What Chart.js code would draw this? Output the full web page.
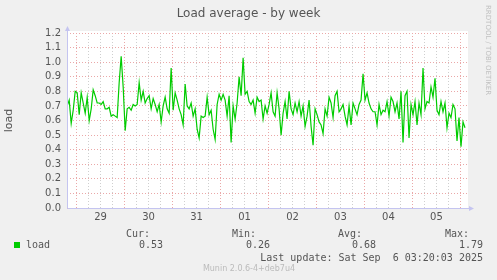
<!DOCTYPE html>
<html>
<head>
<meta charset="utf-8">
<script src="https://cdn.jsdelivr.net/npm/chart.js@4"></script>
<style>
  body { margin: 0; background: #f0f0f0; }
  #wrap { position: relative; width: 497px; height: 280px; overflow: hidden; }
  #chart { position: absolute; left: 0; top: 0; }
  .txt { position: absolute; font-family: 'DejaVu Sans Mono', monospace; font-size: 10px; line-height: 12px; color: #555; white-space: pre; }
  .r { text-align: right; }
  #title { position: absolute; left: 0; top: 6px; width: 497px; text-align: center; font-family: 'DejaVu Sans', sans-serif; font-size: 12px; line-height: 14px; color: #555; }
  #rrd { position: absolute; left: 484px; top: 5px; writing-mode: vertical-rl; font-family: 'DejaVu Sans', sans-serif; font-size: 7px; line-height: 8px; color: #c0c0c0; }
  #ver { position: absolute; left: 149px; top: 264px; width: 200px; text-align: center; font-family: 'DejaVu Sans', sans-serif; font-size: 8px; line-height: 10px; color: #bbb; }
  #swatch { position: absolute; left: 14px; top: 242px; width: 6px; height: 6px; background: #00cc00; }
</style>
</head>
<body>
<div id="wrap">
  <canvas id="chart" width="497" height="280"></canvas>
  <div id="title">Load average - by week</div>
  <div id="rrd">RRDTOOL / TOBI OETIKER</div>

  <div class="txt r" style="right:347px;top:228px">Cur:</div>
  <div class="txt r" style="right:241px;top:228px">Min:</div>
  <div class="txt r" style="right:135px;top:228px">Avg:</div>
  <div class="txt r" style="right:28px;top:228px">Max:</div>

  <div id="swatch"></div>
  <div class="txt" style="left:26px;top:239px">load</div>
  <div class="txt r" style="right:334px;top:239px">0.53</div>
  <div class="txt r" style="right:227px;top:239px">0.26</div>
  <div class="txt r" style="right:121px;top:239px">0.68</div>
  <div class="txt r" style="right:14px;top:239px">1.79</div>

  <div class="txt r" style="right:14px;top:252px">Last update: Sat Sep  6 03:20:03 2025</div>
  <div id="ver">Munin 2.0.6-4+deb7u4</div>
</div>

<script>
// x axis is in hours since 29 Aug 00:00, labels sit at noon of each day
const dayLabels = ['29', '30', '31', '01', '02', '03', '04', '05'];
const xMin = -4.8;
const xMax = 195.8;
const firstHour = -4.7; // first sample
const stepHours = 1;
const yTicks = [0, 0.1, 0.2, 0.3, 0.4, 0.5, 0.6, 0.7, 0.8, 0.9, 1.0, 1.1, 1.2];

const load = [
  0.70, 0.74, 0.58, 0.67, 0.80, 0.79, 0.64, 0.79, 0.72, 0.65, 0.76, 0.60, 0.68, 0.81, 0.77, 0.72, 0.72, 0.71,
  0.73, 0.68, 0.68, 0.69, 0.63, 0.64, 0.63, 0.62, 0.86, 1.04, 0.83, 0.53, 0.68, 0.69, 0.67, 0.71, 0.70,
  0.71, 0.86, 0.74, 0.80, 0.72, 0.75, 0.77, 0.68, 0.75, 0.71, 0.66, 0.71, 0.59, 0.70, 0.76, 0.68, 0.65,
  0.96, 0.67, 0.79, 0.74, 0.68, 0.64, 0.57, 0.85, 0.70, 0.68, 0.72, 0.63, 0.68, 0.54, 0.48, 0.63, 0.62,
  0.63, 0.76, 0.64, 0.67, 0.54, 0.47, 0.71, 0.78, 0.74, 0.78, 0.74, 0.63, 0.77, 0.45, 0.70, 0.61, 0.72,
  0.90, 0.77, 1.03, 0.78, 0.80, 0.73, 0.71, 0.74, 0.65, 0.76, 0.73, 0.74, 0.61, 0.70, 0.65, 0.71, 0.79,
  0.66, 0.63, 0.79, 0.68, 0.50, 0.65, 0.73, 0.61, 0.80, 0.68, 0.64, 0.72, 0.66, 0.73, 0.63, 0.70, 0.56,
  0.63, 0.74, 0.56, 0.43, 0.68, 0.64, 0.59, 0.57, 0.51, 0.68, 0.63, 0.76, 0.72, 0.62, 0.77, 0.80, 0.66,
  0.68, 0.71, 0.63, 0.57, 0.70, 0.57, 0.72, 0.68, 0.64, 0.71, 0.74, 0.92, 0.74, 0.79, 0.72, 0.68, 0.66,
  0.66, 0.57, 0.71, 0.64, 0.67, 0.66, 0.73, 0.63, 0.76, 0.73, 0.66, 0.72, 0.61, 0.80, 0.45, 0.77, 0.80,
  0.48, 0.71, 0.64, 0.73, 0.57, 0.72, 0.64, 0.96, 0.68, 0.73, 0.72, 0.83, 0.76, 0.89, 0.67, 0.64, 0.73,
  0.66, 0.72, 0.55, 0.65, 0.62, 0.71, 0.68, 0.46, 0.62, 0.42, 0.59, 0.55
];

const RED = '#eaa8a8';
const GRAY = '#cfcfcf';
const AXIS = '#c4c4f0';

// white plot area + axis lines with arrows like rrdtool
const munin = {
  id: 'munin',
  beforeDraw(chart) {
    const a = chart.chartArea, c = chart.ctx;
    c.save();
    c.fillStyle = '#fff';
    c.fillRect(a.left, a.top - 2, a.right - a.left, a.bottom - a.top + 2);
    c.restore();
  },
  afterDraw(chart) {
    const a = chart.chartArea, c = chart.ctx;
    const x0 = Math.round(a.left) + 0.5, y0 = Math.round(a.bottom) + 0.5;
    c.save();
    c.strokeStyle = AXIS;
    c.fillStyle = AXIS;
    c.lineWidth = 1;
    c.beginPath();
    c.moveTo(x0, y0); c.lineTo(x0, a.top - 3);
    c.moveTo(x0, y0); c.lineTo(a.right + 2, y0);
    c.stroke();
    c.beginPath();
    c.moveTo(x0, a.top - 7); c.lineTo(x0 - 2.5, a.top - 2); c.lineTo(x0 + 2.5, a.top - 2);
    c.fill();
    c.beginPath();
    c.moveTo(a.right + 6, y0); c.lineTo(a.right + 1, y0 - 2.5); c.lineTo(a.right + 1, y0 + 2.5);
    c.fill();
    c.restore();
  }
};

const points = load.map((v, i) => ({ x: firstHour + i * stepHours, y: v }));

new Chart(document.getElementById('chart'), {
  type: 'line',
  data: {
    datasets: [{
      label: 'load',
      data: points,
      borderColor: '#00cc00',
      borderWidth: 1.2,
      pointRadius: 0,
      tension: 0,
      fill: false
    }]
  },
  options: {
    responsive: false,
    animation: false,
    layout: { padding: { top: 33, right: 29, left: 0, bottom: 0 } },
    plugins: { legend: { display: false }, tooltip: { enabled: false } },
    scales: {
      x: {
        type: 'linear',
        min: xMin,
        max: xMax,
        afterFit: s => { s.height = 72; },
        afterBuildTicks: s => {
          const t = [];
          for (let h = 0; h <= xMax; h += 6) t.push({ value: h });
          s.ticks = t;
        },
        ticks: {
          autoSkip: false,
          maxRotation: 0,
          padding: 3,
          color: '#555',
          font: { family: 'DejaVu Sans', size: 10 },
          callback: v => (v % 24 === 12 ? dayLabels[(v - 12) / 24] : '')
        },
        grid: {
          drawTicks: false,
          lineWidth: 1,
          color: ctx => (ctx.tick && ctx.tick.value % 24 === 0 ? RED : GRAY)
        },
        border: { display: false, dash: [1, 2] }
      },
      y: {
        min: 0,
        max: 1.2,
        afterFit: s => { s.width = 67; },
        afterBuildTicks: s => { s.ticks = yTicks.map(v => ({ value: v })); },
        title: {
          display: true,
          text: 'load',
          color: '#555',
          font: { family: 'DejaVu Sans', size: 11 },
          padding: { top: 3, bottom: 0 }
        },
        ticks: {
          autoSkip: false,
          padding: 6,
          color: '#555',
          font: { family: 'DejaVu Sans', size: 10 },
          callback: v => v.toFixed(1)
        },
        grid: { drawTicks: false, lineWidth: 1, color: RED },
        border: { display: false, dash: [1, 2] }
      }
    }
  },
  plugins: [munin]
});
</script>
</body>
</html>
